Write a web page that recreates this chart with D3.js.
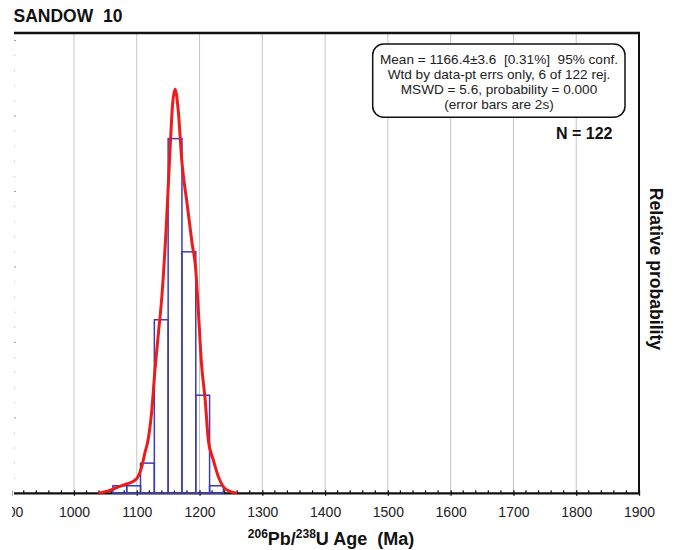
<!DOCTYPE html>
<html>
<head>
<meta charset="utf-8">
<script src="https://cdn.jsdelivr.net/npm/d3@7"></script>
<style>
	body { margin: 0; background: #fff; }
	text { font-family: "Liberation Sans", Arial, sans-serif; }
</style>
</head>
<body>
<svg id="chart" width="687" height="550"></svg>
<script>
// histogram bins (Ma) and counts
var binStarts = [1062, 1084, 1106, 1128, 1150, 1172, 1194, 1216];
var binCounts = [1, 1, 4, 23, 47, 32, 13, 1];
var binWidth = 22;

// relative probability curve
var curveAges = [1039, 1057, 1073, 1084, 1094, 1102, 1108, 1113, 1118, 1124, 1129, 1134, 1140, 1147, 1153, 1157, 1161, 1166, 1172, 1180, 1188, 1194, 1198, 1203, 1209, 1214, 1222, 1230, 1238, 1249, 1260];
var curveProbs = [0, .007, .017, .023, .029, .041, .066, .100, .132, .206, .305, .388, .487, .66, .850, .961, 1, .949, .818, .719, .620, .553, .454, .323, .231, .132, .082, .041, .016, .004, 0];

var xTicks = [900, 1000, 1100, 1200, 1300, 1400, 1500, 1600, 1700, 1800, 1900];
var gridTicks = [1000, 1100, 1200, 1300, 1400, 1500, 1600, 1700, 1800];

var boxLines = [
	"Mean = 1166.4\u00b13.6  [0.31%]  95% conf.",
	"Wtd by data-pt errs only, 6 of 122 rej.",
	"MSWD = 5.6, probability = 0.000",
	"(error bars are 2s)"
];

var svg = d3.select("#chart"),
	plotLeft = 14,
	plotTop = 33,
	plotRight = 639,
	plotBottom = 493.3;

// the picture is cut off on the left
svg.append("defs").append("clipPath")
	.attr("id", "cut")
	.append("rect")
	.attr("x", 12)
	.attr("y", 0)
	.attr("width", 687)
	.attr("height", 550);

var x = d3.scaleLinear()
	.domain([900, 1900])
	.range([11.2, plotRight]);

var yCount = d3.scaleLinear()
	.domain([0, 61])
	.range([plotBottom, plotTop]);

var yProb = d3.scaleLinear()
	.domain([0, 1.139])
	.range([plotBottom, plotTop]);

// grid
svg.append("g")
	.selectAll("line")
	.data(gridTicks)
	.enter().append("line")
	.attr("x1", function (d) { return x(d); })
	.attr("x2", function (d) { return x(d); })
	.attr("y1", plotTop)
	.attr("y2", plotBottom)
	.attr("stroke", "#c4c4c4")
	.attr("stroke-width", 1);

// faint left ticks (counts axis is cut off)
svg.append("g")
	.selectAll("line")
	.data(d3.range(2, 61, 2))
	.enter().append("line")
	.attr("x1", plotLeft)
	.attr("x2", function (d) { return d % 10 == 0 ? plotLeft + 2 : plotLeft + 1.2; })
	.attr("y1", function (d) { return yCount(d); })
	.attr("y2", function (d) { return yCount(d); })
	.attr("stroke", function (d) { return d % 10 == 0 ? "#999" : "#bbb"; })
	.attr("stroke-width", 1);

// frame
svg.append("line")
	.attr("x1", plotLeft).attr("x2", plotRight + 1)
	.attr("y1", plotTop).attr("y2", plotTop)
	.attr("stroke", "#111").attr("stroke-width", 2.5);
svg.append("line")
	.attr("x1", plotRight).attr("x2", plotRight)
	.attr("y1", plotTop).attr("y2", plotBottom)
	.attr("stroke", "#111").attr("stroke-width", 2);

// bottom axis
var gx = svg.append("g")
	.attr("clip-path", "url(#cut)")
	.append("g")
	.attr("transform", "translate(0," + plotBottom + ")");

gx.call(d3.axisBottom(x)
		.tickValues(xTicks)
		.tickFormat(d3.format("d"))
		.tickSizeInner(2.5)
		.tickSizeOuter(0)
		.tickPadding(11))
	.call(function (g) { g.select(".domain").remove(); });

gx.selectAll(".tick line")
	.attr("y1", -3)
	.attr("stroke", "#111")
	.attr("stroke-width", 1.3);

gx.selectAll(".tick text")
	.attr("fill", "#222")
	.attr("font-size", "14px")
	.style("font-family", "'Liberation Sans', Arial, sans-serif");

gx.append("g")
	.selectAll("line")
	.data(d3.range(900, 1901, 20).filter(function (d) { return d % 100 != 0; }))
	.enter().append("line")
	.attr("x1", function (d) { return x(d); })
	.attr("x2", function (d) { return x(d); })
	.attr("y1", -3)
	.attr("y2", 0)
	.attr("stroke", "#111")
	.attr("stroke-width", 1.2);

gx.append("line")
	.attr("x1", plotLeft)
	.attr("x2", plotRight + 1)
	.attr("y1", 0)
	.attr("y2", 0)
	.attr("stroke", "#111")
	.attr("stroke-width", 2.2);

// histogram
svg.append("g")
	.selectAll("rect")
	.data(binStarts)
	.enter().append("rect")
	.attr("x", function (d) { return x(d); })
	.attr("y", function (d, i) { return yCount(binCounts[i]); })
	.attr("width", function (d) { return x(d + binWidth) - x(d); })
	.attr("height", function (d, i) { return plotBottom - yCount(binCounts[i]); })
	.attr("fill", "none")
	.attr("stroke", "#3c3cb4")
	.attr("stroke-width", 1.5);

// probability curve
var pts = curveAges.map(function (a, i) { return [a, curveProbs[i]]; });

svg.append("path")
	.datum(pts)
	.attr("fill", "none")
	.attr("stroke", "#ec1c1c")
	.attr("stroke-width", 3)
	.attr("stroke-linejoin", "round")
	.attr("d", d3.line()
		.curve(d3.curveMonotoneX)
		.x(function (d) { return x(d[0]); })
		.y(function (d) { return yProb(d[1]); }));

// stats box
svg.append("rect")
	.attr("x", 372.7)
	.attr("y", 44)
	.attr("width", 252.3)
	.attr("height", 73.3)
	.attr("rx", 11)
	.attr("fill", "#fff")
	.attr("stroke", "#111")
	.attr("stroke-width", 1.5);

svg.append("g")
	.selectAll("text")
	.data(boxLines)
	.enter().append("text")
	.attr("x", 499)
	.attr("y", function (d, i) { return [64, 79, 94, 108.5][i]; })
	.attr("text-anchor", "middle")
	.attr("font-size", "13.6px")
	.attr("fill", "#222")
	.style("white-space", "pre")
	.text(function (d) { return d; });

svg.append("text")
	.attr("x", 612.5)
	.attr("y", 139.3)
	.attr("text-anchor", "end")
	.attr("font-size", "16px")
	.attr("font-weight", "bold")
	.attr("fill", "#111")
	.text("N = 122");

// title
svg.append("text")
	.attr("x", 13.5)
	.attr("y", 21.7)
	.attr("font-size", "17.5px")
	.attr("font-weight", "bold")
	.attr("fill", "#111")
	.style("white-space", "pre")
	.text("SANDOW  10");

// right label
svg.append("text")
	.attr("transform", "translate(650,269) rotate(90)")
	.attr("text-anchor", "middle")
	.attr("font-size", "17.6px")
	.attr("font-weight", "bold")
	.attr("fill", "#111")
	.text("Relative probability");

// x title
var xt = svg.append("text")
	.attr("x", 331)
	.attr("y", 545)
	.attr("text-anchor", "middle")
	.attr("font-size", "18px")
	.attr("font-weight", "bold")
	.attr("fill", "#111")
	.style("white-space", "pre");
xt.append("tspan").attr("font-size", "12px").attr("dy", -7).text("206");
xt.append("tspan").attr("dy", 7).text("Pb/");
xt.append("tspan").attr("font-size", "12px").attr("dy", -7).text("238");
xt.append("tspan").attr("dy", 7).text("U Age  (Ma)");
</script>
</body>
</html>
